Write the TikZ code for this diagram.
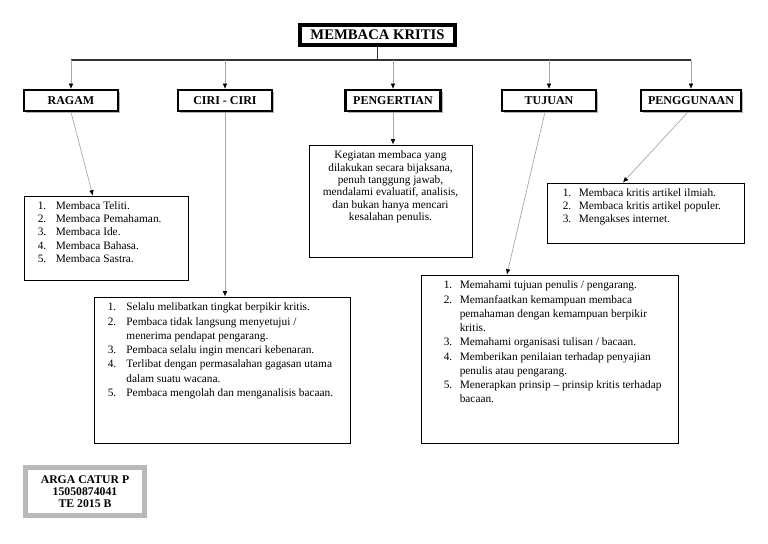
\documentclass[tikz,border=0pt]{standalone}
\usepackage{fontspec}
\setmainfont{Liberation Serif}
\usetikzlibrary{arrows.meta,shadows,calc}

\begin{document}
\begin{tikzpicture}[x=0.75pt,y=-0.75pt,
  bayang/.style={drop shadow={shadow xshift=1.5pt,shadow yshift=-1.5pt,fill=gray,opacity=0.6}},
  judulkotak/.style={draw,line width=3pt,minimum width=116.25pt,minimum height=15pt,inner sep=0pt,fill=white,bayang,font=\fontsize{11}{12}\selectfont\bfseries},
  kepala/.style={draw,line width=1.6pt,minimum width=70.5pt,minimum height=15.75pt,inner sep=0pt,fill=white,bayang,font=\fontsize{9}{10}\selectfont\bfseries},
  isi/.style={draw,line width=0.75pt,inner sep=0pt},
  teks/.style={inner sep=0pt,anchor=north west,align=left},
  panah/.style={draw=gray!70,line width=0.5pt,-{Latex[length=4pt,width=3.5pt,color=black]}},
  garis/.style={draw=black!80,line width=0.9pt}]
\useasboundingbox (0,0) rectangle (768,543);

% judul
\node[judulkotak] (judul) at (377.5,35) {MEMBACA KRITIS};
\coordinate (bus) at (377,60);

% kepala
\node[kepala] (ragam) at (71,100.5) {RAGAM};
\node[kepala] (ciri) at (225,100.5) {CIRI - CIRI};
\node[kepala,minimum width=71.25pt] (pengertian) at (393,100.5) {PENGERTIAN};
\node[kepala] (tujuan) at (549,100.5) {TUJUAN};
\node[kepala,minimum width=75pt] (penggunaan) at (691,100.5) {PENGGUNAAN};

\draw[garis] (judul.south) -- (judul.south |- bus);
\draw[garis] (ragam.north |- bus) -- (penggunaan.north |- bus);
\draw[panah] (ragam.north |- bus) -- (ragam.north);
\draw[panah] (ciri.north |- bus) -- (ciri.north);
\draw[panah] (pengertian.north |- bus) -- (pengertian.north);
\draw[panah] (tujuan.north |- bus) -- (tujuan.north);
\draw[panah] (penggunaan.north |- bus) -- (penggunaan.north);

% kotak isi
\node[isi,minimum width=123pt,minimum height=63pt] (ragamisi) at (106,238) {};
\node[isi,minimum width=122.25pt,minimum height=84pt] (pengertianisi) at (390.5,201) {};
\node[isi,minimum width=147.75pt,minimum height=45pt] (penggunaanisi) at (645.5,213) {};
\node[isi,minimum width=192pt,minimum height=109.5pt] (ciriisi) at (222,370) {};
\node[isi,minimum width=192.75pt,minimum height=126pt] (tujuanisi) at (549.5,359) {};

\draw[panah] (ragam.south) -- ($(ragamisi.north west)!0.42!(ragamisi.north east)$);
\draw[panah] (ciri.south) -- (ciri.south |- ciriisi.north);
\draw[panah] (pengertian.south) -- (pengertian.south |- pengertianisi.north);
\draw[panah] ($(tujuan.south)+(-4,0)$) -- ($(tujuanisi.north west)!0.335!(tujuanisi.north east)$);
\draw[panah] ($(penggunaan.south)+(-3,0)$) -- ($(penggunaanisi.north west)!0.386!(penggunaanisi.north east)$);

% teks isi
\node[teks,font=\fontsize{8.5}{10}\selectfont] (ragamteks) at ($(ragamisi.north west)+(14,4)$) {%
\begin{tabular}{@{}p{13.5pt}@{}l@{}}
1. & Membaca Teliti.\\
2. & Membaca Pemahaman.\\
3. & Membaca Ide.\\
4. & Membaca Bahasa.\\
5. & Membaca Sastra.
\end{tabular}};

\node[inner sep=0pt,anchor=north,align=center,font=\fontsize{8.5}{9.3}\selectfont] (pengertianteks) at ($(pengertianisi.north)+(0,6)$) {%
Kegiatan membaca yang\\
dilakukan secara bijaksana,\\
penuh tanggung jawab,\\
mendalami evaluatif, analisis,\\
dan bukan hanya mencari\\
kesalahan penulis.};

\node[teks,font=\fontsize{8.5}{9.75}\selectfont] (penggunaanteks) at ($(penggunaanisi.north west)+(16,4.5)$) {%
\begin{tabular}{@{}p{12pt}@{}l@{}}
1. & Membaca kritis artikel ilmiah.\\
2. & Membaca kritis artikel populer.\\
3. & Mengakses internet.
\end{tabular}};

\node[teks,font=\fontsize{8.5}{10.7}\selectfont] (ciriteks) at ($(ciriisi.north west)+(14,4)$) {%
\begin{tabular}{@{}p{14pt}@{}l@{}}
1. & Selalu melibatkan tingkat berpikir kritis.\\
2. & Pembaca tidak langsung menyetujui /\\
   & menerima pendapat pengarang.\\
3. & Pembaca selalu ingin mencari kebenaran.\\
4. & Terlibat dengan permasalahan gagasan utama\\
   & dalam suatu wacana.\\
5. & Pembaca mengolah dan menganalisis bacaan.
\end{tabular}};

\node[teks,font=\fontsize{8.5}{10.7}\selectfont] (tujuanteks) at ($(tujuanisi.north west)+(23,4)$) {%
\begin{tabular}{@{}p{12pt}@{}l@{}}
1. & Memahami tujuan penulis / pengarang.\\
2. & Memanfaatkan kemampuan membaca\\
   & pemahaman dengan kemampuan berpikir\\
   & kritis.\\
3. & Memahami organisasi tulisan / bacaan.\\
4. & Memberikan penilaian terhadap penyajian\\
   & penulis atau pengarang.\\
5. & Menerapkan prinsip -- prinsip kritis terhadap\\
   & bacaan.
\end{tabular}};

% nama
\node[draw=gray!55,line width=3.75pt,minimum width=89.25pt,minimum height=36pt,inner sep=0pt,align=center,font=\fontsize{8.8}{9}\selectfont\bfseries] (nama) at (85,491.5) {ARGA CATUR P\\15050874041\\TE 2015 B};

\end{tikzpicture}
\end{document}
